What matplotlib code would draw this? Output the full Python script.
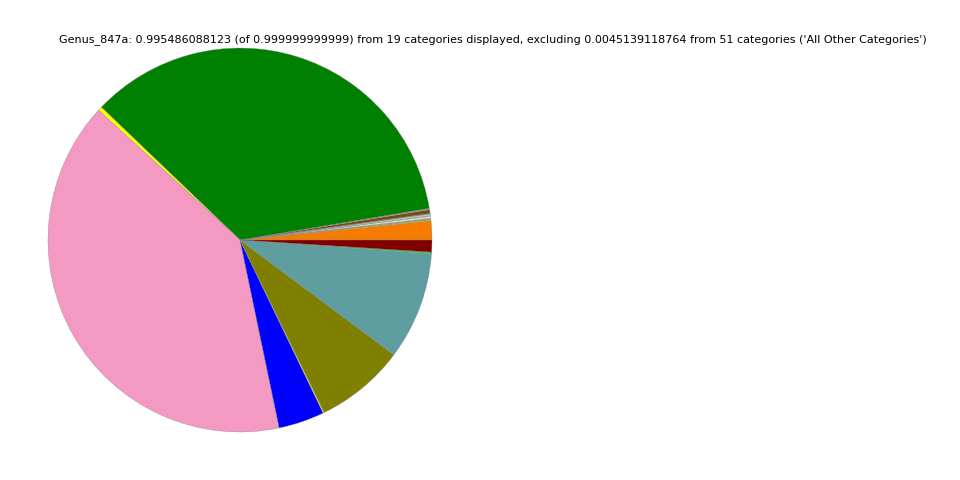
import matplotlib
matplotlib.use("Agg")
import matplotlib.pyplot as plt

# genus fractions, counterclockwise from 3 o'clock
labels = ["g01", "g02", "g03", "g04", "g05", "g06", "g07", "g08", "g09", "g10",
          "g11", "g12", "g13", "g14", "g15", "g16", "g17", "g18", "g19"]
values = [0.0158, 0.0010, 0.0012, 0.0016, 0.0006, 0.0012, 0.0005, 0.0033, 0.0010,
          0.3500, 0.0034, 0.3985, 0.0384, 0.0010, 0.0752, 0.0900, 0.0010, 0.0004, 0.0100]
colors = ["#F57C00", "#C8C800", "#999999", "#EEE8AA", "#DDDDDD", "#ADD8E6", "#C0C0C0",
          "#7B4A12", "#999999", "#008000", "#FFFF00", "#F49AC2", "#0000FF", "#E8E800",
          "#808000", "#5F9EA0", "#00FF00", "#555555", "#800000"]

title = ("Genus_847a: 0.995486088123 (of 0.999999999999) from 19 categories displayed, "
         "excluding 0.0045139118764 from 51 categories ('All Other Categories')")

fig = plt.figure(figsize=(9.6, 4.8), dpi=100)
ax = fig.add_axes([0.05, 0.1, 0.4, 0.8])
ax.pie(values, colors=colors, startangle=0, counterclock=True,
       wedgeprops={"edgecolor": "#888888", "linewidth": 0.25})
ax.set_xlim(-1, 1)
ax.set_ylim(-1, 1)
ax.set_aspect("equal")
ax.axis("off")

fig.text(0.513, 0.918, title, ha="center", va="center", fontsize=8)

fig.savefig("out.png", dpi=100)
